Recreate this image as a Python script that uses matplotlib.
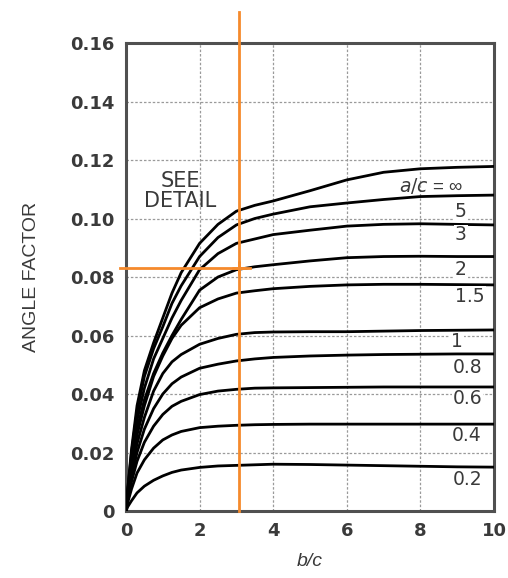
import matplotlib
matplotlib.use("Agg")
import matplotlib.pyplot as plt

# ---- data -------------------------------------------------------------
bc = [0, 0.05, 0.15, 0.3, 0.5, 0.75, 1, 1.25, 1.5, 2, 2.5, 3, 3.5, 4, 5, 6, 7, 8, 9, 10]

ac_inf = [0, 0.008, 0.021, 0.036, 0.048, 0.0575, 0.066, 0.0745, 0.0815, 0.0915, 0.098, 0.1025, 0.1045, 0.106, 0.1095, 0.1132, 0.1158, 0.1170, 0.1175, 0.1178]
ac_5   = [0, 0.0075, 0.020, 0.034, 0.046, 0.0555, 0.063, 0.071, 0.077, 0.087, 0.0935, 0.0978, 0.100, 0.1015, 0.104, 0.1053, 0.1065, 0.1075, 0.1078, 0.108]
ac_3   = [0, 0.007, 0.018, 0.031, 0.042, 0.052, 0.059, 0.066, 0.072, 0.0825, 0.088, 0.0915, 0.093, 0.0945, 0.096, 0.0974, 0.098, 0.0982, 0.098, 0.0978]
ac_2   = [0, 0.0065, 0.016, 0.028, 0.038, 0.047, 0.054, 0.060, 0.0655, 0.0755, 0.080, 0.0825, 0.0835, 0.0842, 0.0855, 0.0866, 0.087, 0.0871, 0.087, 0.087]
ac_1_5 = [0, 0.006, 0.015, 0.026, 0.036, 0.046, 0.053, 0.059, 0.0635, 0.0695, 0.0725, 0.0745, 0.0753, 0.076, 0.0768, 0.0773, 0.0775, 0.0775, 0.0774, 0.0773]
ac_1   = [0, 0.005, 0.013, 0.023, 0.032, 0.041, 0.047, 0.051, 0.0535, 0.057, 0.059, 0.0604, 0.061, 0.0612, 0.0613, 0.0613, 0.0615, 0.0617, 0.0618, 0.0619]
ac_0_8 = [0, 0.0045, 0.012, 0.020, 0.028, 0.035, 0.040, 0.0435, 0.0458, 0.0488, 0.0502, 0.0513, 0.052, 0.0525, 0.053, 0.0533, 0.0535, 0.0536, 0.0537, 0.0537]
ac_0_6 = [0, 0.004, 0.010, 0.017, 0.0235, 0.029, 0.033, 0.0358, 0.0375, 0.0398, 0.041, 0.0416, 0.042, 0.0421, 0.0422, 0.0423, 0.0424, 0.0424, 0.0424, 0.0424]
ac_0_4 = [0, 0.003, 0.0075, 0.013, 0.0175, 0.0215, 0.0243, 0.026, 0.0272, 0.0285, 0.029, 0.0293, 0.0295, 0.0296, 0.0297, 0.0297, 0.0297, 0.0297, 0.0297, 0.0297]
ac_0_2 = [0, 0.0015, 0.0035, 0.0062, 0.0085, 0.0105, 0.012, 0.0132, 0.014, 0.0149, 0.0154, 0.0156, 0.0158, 0.016, 0.0159, 0.0157, 0.0155, 0.0153, 0.0151, 0.015]

series = [ac_inf, ac_5, ac_3, ac_2, ac_1_5, ac_1, ac_0_8, ac_0_6, ac_0_4, ac_0_2]
curve_labels = ["a/c = ∞", "5", "3", "2", "1.5", "1", "0.8", "0.6", "0.4", "0.2"]
label_x = [8.3, 9.1, 9.1, 9.1, 9.35, 9.0, 9.27, 9.27, 9.27, 9.27]
label_y = [0.1112, 0.1023, 0.0944, 0.0824, 0.0733, 0.0578, 0.0492, 0.0383, 0.0257, 0.0109]

x_ticks = [0, 2, 4, 6, 8, 10]
y_ticks = [0, 0.02, 0.04, 0.06, 0.08, 0.10, 0.12, 0.14, 0.16]
y_ticklabels = ["0", "0.02", "0.04", "0.06", "0.08", "0.10", "0.12", "0.14", "0.16"]

marker_x = 3.07
marker_y = 0.0831

# ---- figure -----------------------------------------------------------
plt.rcParams['font.family'] = ['Liberation Sans', 'DejaVu Sans']
fig = plt.figure(figsize=(5.08, 5.78), dpi=100)
ax = fig.add_axes([0.248, 0.1159, 0.7244, 0.8097])
ax.set_xlim(0, 10)
ax.set_ylim(0, 0.16)

txt = '#3a3a3a'
ax.set_xticks(x_ticks)
ax.set_xticklabels([str(t) for t in x_ticks])
ax.set_yticks(y_ticks)
ax.set_yticklabels(y_ticklabels)
ax.tick_params(length=0, labelsize=13, labelcolor=txt, pad=8)
for lab in ax.get_xticklabels() + ax.get_yticklabels():
    lab.set_fontweight('bold')
    lab.set_family(['DejaVu Sans'])

ax.grid(True, color='#9a9a9a', linestyle=(0, (2, 1.5)), linewidth=0.9)
ax.set_axisbelow(True)
for s in ax.spines.values():
    s.set_color('#505050')
    s.set_linewidth(2.2)

for ys, lab, lx, ly in zip(series, curve_labels, label_x, label_y):
    ax.plot(bc, ys, color='black', lw=2.0, solid_capstyle='round', solid_joinstyle='round', zorder=3)
    if lab.startswith('a/c'):
        ax.text(lx, ly, r"$\it{a/c}$ = ∞", ha='center', va='center', fontsize=13.5,
                color=txt, zorder=4)
    else:
        ax.text(lx, ly, lab, ha='center', va='center', fontsize=13.5, color=txt,
                family=['DejaVu Sans'], bbox=dict(facecolor='white', edgecolor='none', pad=0.5), zorder=4)

ax.text(1.47, 0.1094, "SEE\nDETAIL", ha='center', va='center', fontsize=15,
        color=txt, linespacing=0.95, family=['DejaVu Sans'])

orange = '#f58a2c'
ax.plot([marker_x, marker_x], [0, 0.1706], color=orange, lw=2.0, clip_on=False, zorder=5)
ax.plot([-0.16, marker_x + 0.3], [marker_y, marker_y], color=orange, lw=2.0, clip_on=False, zorder=5)
ax.plot([marker_x], [marker_y], marker='+', color=orange, ms=10, mew=2, zorder=6)

ax.set_ylabel("ANGLE FACTOR", fontsize=14, color=txt, labelpad=22)
ax.set_xlabel("b/c", fontsize=14, color=txt, style='italic', labelpad=9)

fig.savefig("out.png", dpi=100)
